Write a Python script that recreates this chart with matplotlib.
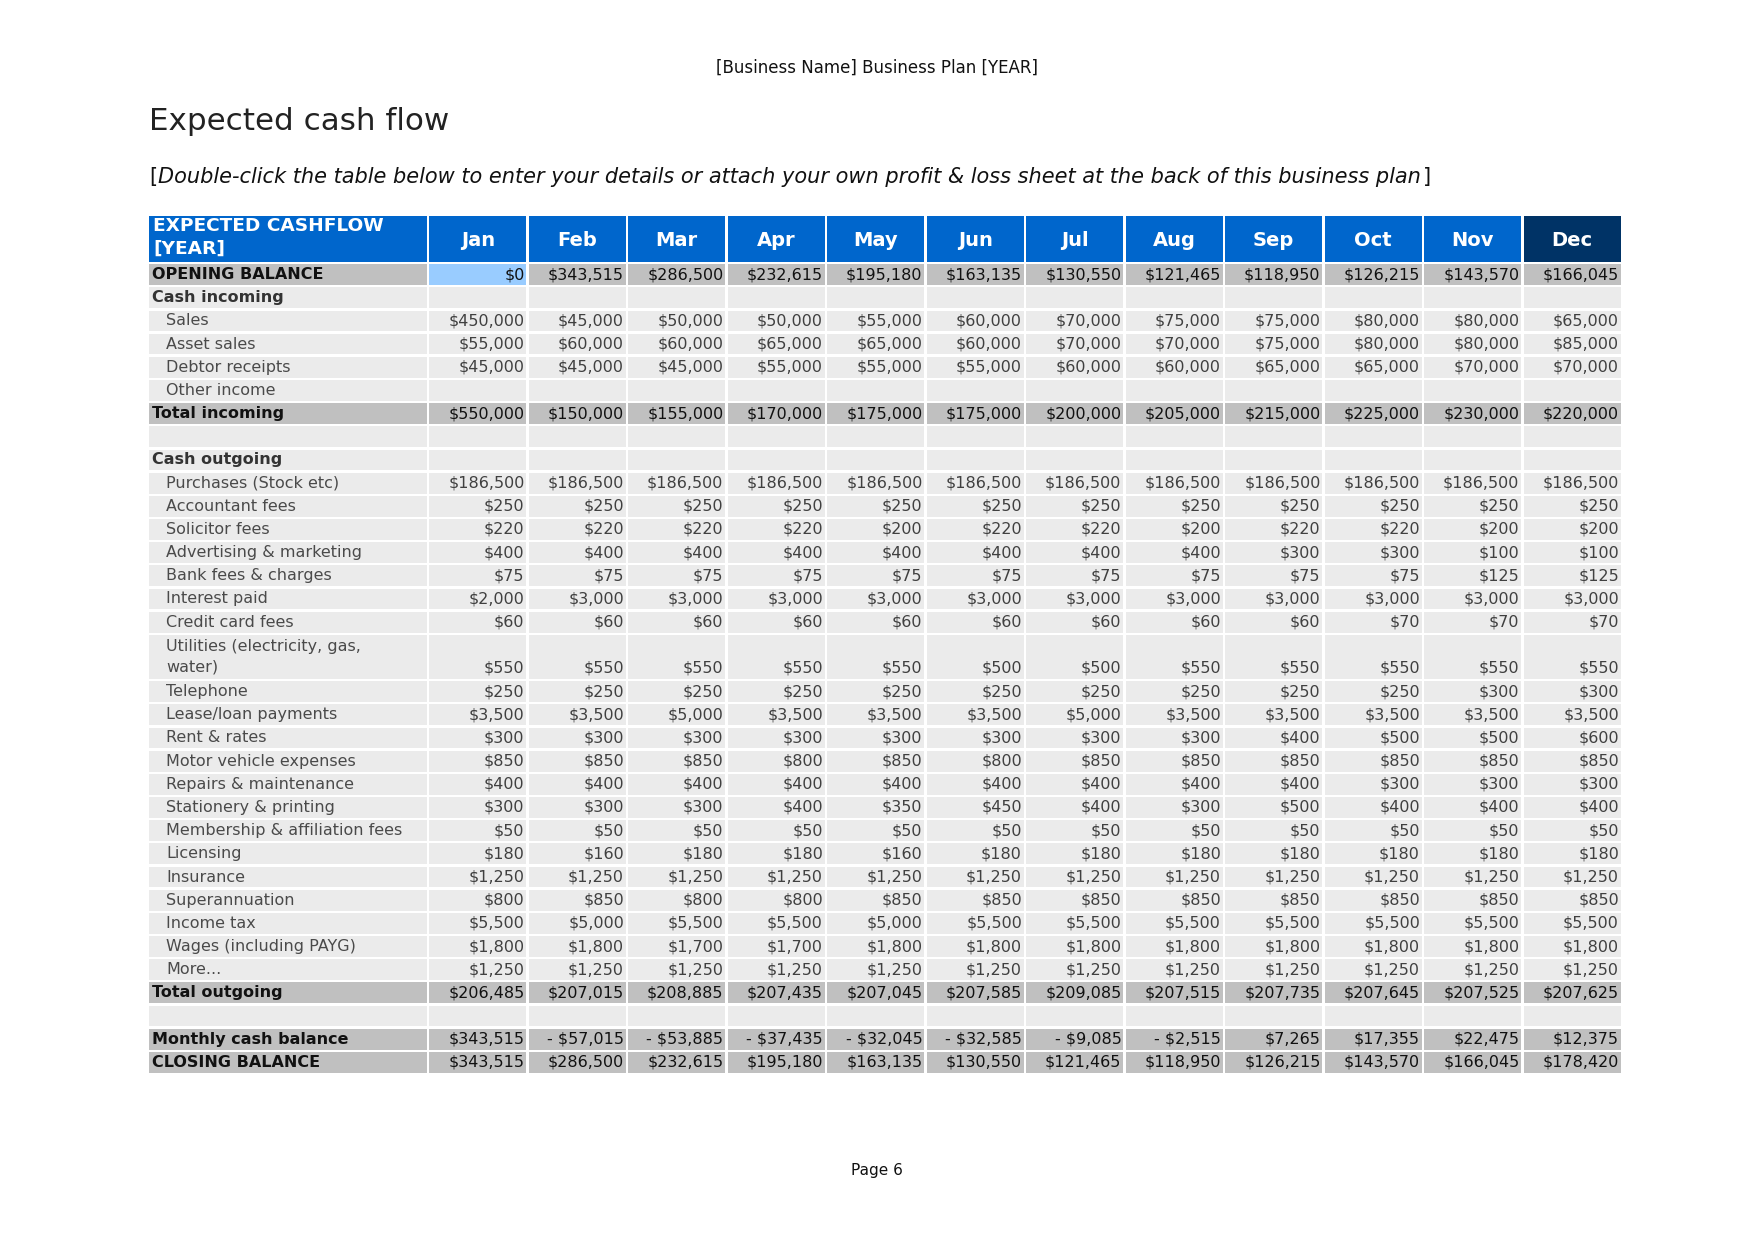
import matplotlib
matplotlib.use("Agg")
import matplotlib.pyplot as plt
from matplotlib.patches import Rectangle

plt.rcParams['font.family'] = ['DejaVu Sans']

months = ["Jan", "Feb", "Mar", "Apr", "May", "Jun", "Jul", "Aug", "Sep", "Oct", "Nov", "Dec"]

opening = [0, 343515, 286500, 232615, 195180, 163135, 130550, 121465, 118950, 126215, 143570, 166045]
sales = [450000, 45000, 50000, 50000, 55000, 60000, 70000, 75000, 75000, 80000, 80000, 65000]
asset_sales = [55000, 60000, 60000, 65000, 65000, 60000, 70000, 70000, 75000, 80000, 80000, 85000]
debtor = [45000, 45000, 45000, 55000, 55000, 55000, 60000, 60000, 65000, 65000, 70000, 70000]
total_in = [550000, 150000, 155000, 170000, 175000, 175000, 200000, 205000, 215000, 225000, 230000, 220000]

purchases = [186500] * 12
accountant = [250] * 12
solicitor = [220, 220, 220, 220, 200, 220, 220, 200, 220, 220, 200, 200]
advertising = [400, 400, 400, 400, 400, 400, 400, 400, 300, 300, 100, 100]
bank_fees = [75, 75, 75, 75, 75, 75, 75, 75, 75, 75, 125, 125]
interest = [2000, 3000, 3000, 3000, 3000, 3000, 3000, 3000, 3000, 3000, 3000, 3000]
credit_card = [60, 60, 60, 60, 60, 60, 60, 60, 60, 70, 70, 70]
utilities = [550, 550, 550, 550, 550, 500, 500, 550, 550, 550, 550, 550]
telephone = [250, 250, 250, 250, 250, 250, 250, 250, 250, 250, 300, 300]
lease = [3500, 3500, 5000, 3500, 3500, 3500, 5000, 3500, 3500, 3500, 3500, 3500]
rent = [300, 300, 300, 300, 300, 300, 300, 300, 400, 500, 500, 600]
motor = [850, 850, 850, 800, 850, 800, 850, 850, 850, 850, 850, 850]
repairs = [400, 400, 400, 400, 400, 400, 400, 400, 400, 300, 300, 300]
stationery = [300, 300, 300, 400, 350, 450, 400, 300, 500, 400, 400, 400]
membership = [50] * 12
licensing = [180, 160, 180, 180, 160, 180, 180, 180, 180, 180, 180, 180]
insurance = [1250] * 12
superann = [800, 850, 800, 800, 850, 850, 850, 850, 850, 850, 850, 850]
income_tax = [5500, 5000, 5500, 5500, 5000, 5500, 5500, 5500, 5500, 5500, 5500, 5500]
wages = [1800, 1800, 1700, 1700, 1800, 1800, 1800, 1800, 1800, 1800, 1800, 1800]
more = [1250] * 12
total_out = [206485, 207015, 208885, 207435, 207045, 207585, 209085, 207515, 207735, 207645, 207525, 207625]
monthly = [343515, -57015, -53885, -37435, -32045, -32585, -9085, -2515, 7265, 17355, 22475, 12375]
closing = [343515, 286500, 232615, 195180, 163135, 130550, 121465, 118950, 126215, 143570, 166045, 178420]

# (label, kind, values, height in rows)
rows = [
    ("OPENING BALANCE", "total", opening, 1),
    ("Cash incoming", "section", None, 1),
    ("Sales", "item", sales, 1),
    ("Asset sales", "item", asset_sales, 1),
    ("Debtor receipts", "item", debtor, 1),
    ("Other income", "item", None, 1),
    ("Total incoming", "total", total_in, 1),
    ("", "blank", None, 1),
    ("Cash outgoing", "section", None, 1),
    ("Purchases (Stock etc)", "item", purchases, 1),
    ("Accountant fees", "item", accountant, 1),
    ("Solicitor fees", "item", solicitor, 1),
    ("Advertising & marketing", "item", advertising, 1),
    ("Bank fees & charges", "item", bank_fees, 1),
    ("Interest paid", "item", interest, 1),
    ("Credit card fees", "item", credit_card, 1),
    ("Utilities (electricity, gas,\nwater)", "item", utilities, 2),
    ("Telephone", "item", telephone, 1),
    ("Lease/loan payments", "item", lease, 1),
    ("Rent & rates", "item", rent, 1),
    ("Motor vehicle expenses", "item", motor, 1),
    ("Repairs & maintenance", "item", repairs, 1),
    ("Stationery & printing", "item", stationery, 1),
    ("Membership & affiliation fees", "item", membership, 1),
    ("Licensing", "item", licensing, 1),
    ("Insurance", "item", insurance, 1),
    ("Superannuation", "item", superann, 1),
    ("Income tax", "item", income_tax, 1),
    ("Wages (including PAYG)", "item", wages, 1),
    ("More...", "item", more, 1),
    ("Total outgoing", "total", total_out, 1),
    ("", "blank", None, 1),
    ("Monthly cash balance", "total", monthly, 1),
    ("CLOSING BALANCE", "total", closing, 1),
]


def money(v):
    if v < 0:
        return "- ${:,}".format(-v)
    return "${:,}".format(v)


W, H = 1754, 1241
fig = plt.figure(figsize=(W / 100, H / 100), dpi=100)
ax = fig.add_axes([0, 0, 1, 1])
ax.set_xlim(0, W)
ax.set_ylim(H, 0)
ax.axis("off")

left, label_right, right = 149, 428, 1622
col_w = (right - label_right) / len(months)
head_top, head_bot = 216, 263
row_h = 23.17

BLUE, NAVY = "#0066cc", "#003366"
GRAY, LIGHT = "#c0c0c0", "#ebebeb"
gap = 1.2

# page texts
ax.text(W / 2, 68, "[Business Name] Business Plan [YEAR]", ha="center", va="center", fontsize=12, color="#111")
ax.text(left, 121, "Expected cash flow", ha="left", va="center", fontsize=22.3, color="#222")
ax.text(left, 177, "[", ha="left", va="center", fontsize=15, color="#111")
instr = ax.text(left + 9, 177,
                "Double-click the table below to enter your details or attach your own profit & loss sheet at the back of this business plan",
                ha="left", va="center", fontsize=15, style="italic", color="#111")
# closing bracket goes right after the italic text
renderer = fig.canvas.get_renderer()
bb = instr.get_window_extent(renderer=renderer)
ax.text(bb.x1 + 2, 177, "]", ha="left", va="center", fontsize=15, color="#111")
ax.text(W / 2, 1170, "Page 6", ha="center", va="center", fontsize=11, color="#111")

# header
ax.add_patch(Rectangle((left, head_top), label_right - left - gap, head_bot - head_top - gap,
                       facecolor=BLUE, edgecolor="none"))
ax.text(left + 4, 226, "EXPECTED CASHFLOW", ha="left", va="center", fontsize=13.3,
        fontweight="bold", color="white")
ax.text(left + 4, 249, "[YEAR]", ha="left", va="center", fontsize=13.3,
        fontweight="bold", color="white")
for i, m in enumerate(months):
    x0 = label_right + i * col_w
    ax.add_patch(Rectangle((x0 + gap, head_top), col_w - 2 * gap, head_bot - head_top - gap,
                           facecolor=NAVY if m == "Dec" else BLUE, edgecolor="none"))
    ax.text(x0 + col_w / 2, 240, m, ha="center", va="center", fontsize=14,
            fontweight="bold", color="white")

# body
y = head_bot
for label, kind, vals, span in rows:
    h = row_h * span
    fc = GRAY if kind == "total" else LIGHT
    ax.add_patch(Rectangle((left, y + gap), label_right - left - gap, h - 2 * gap,
                           facecolor=fc, edgecolor="none"))
    for i in range(len(months)):
        x0 = label_right + i * col_w
        cfc = "#99ccff" if (label == "OPENING BALANCE" and i == 0) else fc
        ax.add_patch(Rectangle((x0 + gap, y + gap), col_w - 2 * gap, h - 2 * gap,
                               facecolor=cfc, edgecolor="none"))
    if kind == "total":
        ax.text(left + 3, y + h / 2, label, ha="left", va="center", fontsize=11.5,
                fontweight="bold", color="#111")
    elif kind == "section":
        ax.text(left + 3, y + h / 2, label, ha="left", va="center", fontsize=11.5,
                fontweight="bold", color="#333")
    elif kind == "item":
        ax.text(left + 17, y + h / 2, label, ha="left", va="center", fontsize=11.5,
                color="#4a4a4a", linespacing=1.45)
    if vals is not None:
        ty = y + h - row_h / 2
        for i, v in enumerate(vals):
            x1 = label_right + (i + 1) * col_w - 3
            ax.text(x1, ty, money(v), ha="right", va="center", fontsize=11.5,
                    color="#111" if kind == "total" else "#404040")
    y += h

fig.savefig("out.png", dpi=100)
